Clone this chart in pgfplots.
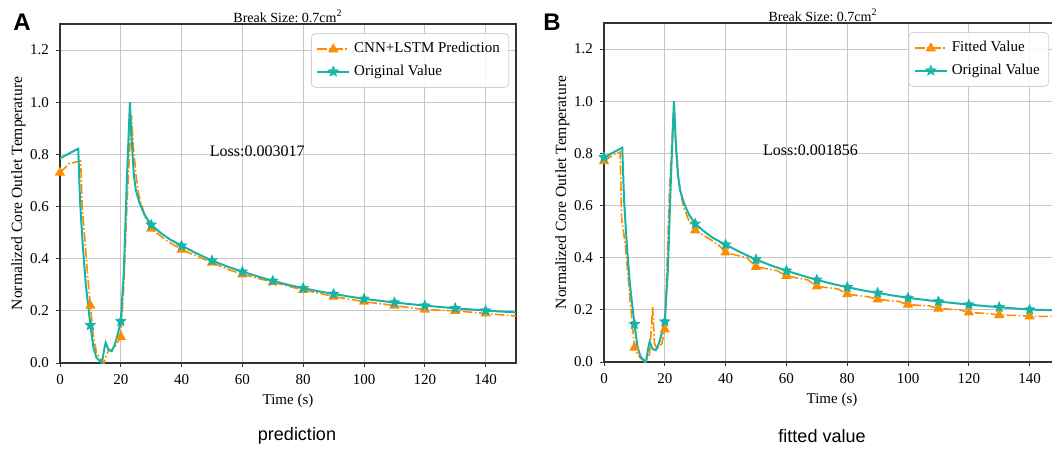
\documentclass[border=0pt]{standalone}
\usepackage{fontspec}
\setmainfont{Liberation Serif}
\newfontfamily\sansf{Liberation Sans}
\usepackage{pgfplots}
\pgfplotsset{compat=1.18}
\frenchspacing
\definecolor{cOrange}{HTML}{FF8C00}
\definecolor{cTeal}{HTML}{17B3A6}

\pgfdeclareplotmark{fstar}{%
  \pgfpathmoveto{\pgfpointpolar{90}{\pgfplotmarksize}}%
  \pgfpathlineto{\pgfpointpolar{126}{0.45\pgfplotmarksize}}%
  \pgfpathlineto{\pgfpointpolar{162}{\pgfplotmarksize}}%
  \pgfpathlineto{\pgfpointpolar{198}{0.45\pgfplotmarksize}}%
  \pgfpathlineto{\pgfpointpolar{234}{\pgfplotmarksize}}%
  \pgfpathlineto{\pgfpointpolar{270}{0.45\pgfplotmarksize}}%
  \pgfpathlineto{\pgfpointpolar{306}{\pgfplotmarksize}}%
  \pgfpathlineto{\pgfpointpolar{342}{0.45\pgfplotmarksize}}%
  \pgfpathlineto{\pgfpointpolar{18}{\pgfplotmarksize}}%
  \pgfpathlineto{\pgfpointpolar{54}{0.45\pgfplotmarksize}}%
  \pgfpathclose
  \pgfusepathqfillstroke
}

\pgfplotsset{
  panel/.style={
    scale only axis, width=228pt, height=169.5pt,
    xmin=0, xmax=150, ymin=0, ymax=1.3,
    xtick={0,20,40,60,80,100,120,140},
    ytick={0,0.2,0.4,0.6,0.8,1.0,1.2},
    grid=major, grid style={gray!45, line width=0.5pt},
    axis line style={black!80, line width=0.6pt},
    tick align=outside, tick pos=left, major tick length=2pt,
    tick style={black!80, line width=0.5pt},
    yticklabel style={/pgf/number format/fixed, /pgf/number format/fixed zerofill, /pgf/number format/precision=1},
    /pgf/number format/assume math mode=true,
    ticklabel style={font=\fontsize{7.5}{9}\selectfont},
    xlabel={Time (s)}, ylabel={Normalized Core Outlet Temperature},
    xlabel style={font=\fontsize{7.5}{8.5}\selectfont, yshift=2pt},
    ylabel style={font=\fontsize{7.8}{9}\selectfont, yshift=-4.5pt},
    title={Break Size: 0.7cm\textsuperscript{2}},
    title style={font=\fontsize{7}{8}\selectfont, yshift=-9pt},
    legend style={font=\fontsize{7.5}{9}\selectfont, draw=gray!35, rounded corners=2pt,
      fill=white, fill opacity=0.85, text opacity=1, inner sep=2.5pt, row sep=0.5pt},
    legend cell align=left,
    legend image code/.code={\draw[##1, mark indices={2}] plot coordinates {(0cm,0cm) (0.28cm,0cm) (0.56cm,0cm)};},
  },
  orangeS/.style={color=cOrange, line width=0.8pt,
    dash pattern=on 4.8pt off 1.2pt on 0.8pt off 1.2pt,
    mark=triangle*, mark size=2.2pt, mark options={solid, fill=cOrange}},
  tealS/.style={color=cTeal, line width=1pt,
    mark=fstar, mark size=2.6pt, mark options={solid, fill=cTeal, line width=0.4pt}},
}

\begin{document}
\begin{tikzpicture}
\useasboundingbox (0,0) rectangle (526pt,225pt);
\clip (0,0) rectangle (526pt,225pt);

% ---------------- Panel A ----------------
\begin{axis}[panel, at={(30pt,43.5pt)}, anchor=south west,
  legend style={at={(0.985,0.973)}, anchor=north east}]
\addplot[orangeS, mark indices={1,7,17,26,28,30,32,34,36,38,40,42,43,44,45}] table {
t v
0 0.73
3 0.765
6.8 0.775
7.3 0.6
8 0.5
9 0.35
10 0.22
11 0.1
12 0.04
13 0.02
14.5 0.0
15 0.02
16 0.05
17 0.05
18 0.06
19 0.08
20 0.10
21 0.3
22 0.6
23.5 0.95
24 0.85
25 0.72
26 0.64
27 0.6
28 0.56
30 0.515
35 0.47
40 0.435
45 0.41
50 0.385
55 0.36
60 0.34
65 0.325
70 0.31
75 0.295
80 0.28
85 0.268
90 0.255
95 0.245
100 0.235
105 0.228
110 0.22
120 0.205
130 0.2
140 0.19
150 0.18
};
\addlegendentry{CNN+LSTM Prediction}
\addplot[tealS, mark indices={6,16,26,29,31,33,35,37,39,41,42,43,44,45}] table {
t v
0 0.785
6 0.822
6.6 0.62
7.5 0.45
8.5 0.3
10 0.145
11 0.06
12 0.02
13.8 0.0
14.5 0.05
15 0.078
16 0.05
17 0.045
18 0.07
19 0.11
20 0.16
21 0.35
22 0.7
23 1.0
23.6 0.85
24.3 0.72
25 0.66
26 0.62
27 0.59
28 0.565
30 0.53
33 0.5
36 0.475
40 0.45
45 0.42
50 0.393
55 0.37
60 0.35
65 0.332
70 0.315
75 0.3
80 0.287
85 0.275
90 0.265
95 0.255
100 0.246
110 0.232
120 0.22
130 0.21
140 0.201
150 0.194
};
\addlegendentry{Original Value}
\node[anchor=west, font=\fontsize{8}{9}\selectfont] at (axis cs:47,0.81) {Loss:0.003017};
\end{axis}

% ---------------- Panel B ----------------
\begin{axis}[panel, at={(302pt,44pt)}, anchor=south west,
  title style={xshift=-4.5pt},
  legend style={at={(0.976,0.973)}, anchor=north east}]
\addplot[orangeS, mark indices={1,7,16,24,27,29,31,33,35,37,39,41,43,45,47}] table {
t v
0 0.77
3 0.795
5.3 0.805
5.8 0.55
7 0.45
8.5 0.25
10 0.055
11 0.03
12 0.015
13.5 0.0
15 0.03
16 0.21
16.6 0.07
17.5 0.05
19 0.07
20 0.125
20.8 0.4
21.5 0.65
23 0.99
23.6 0.82
24.5 0.7
26 0.6
28 0.54
30 0.505
35 0.47
38 0.445
40 0.42
47 0.4
50 0.365
57 0.35
60 0.33
67 0.315
70 0.29
77 0.28
80 0.26
87 0.25
90 0.24
97 0.232
100 0.22
107 0.215
110 0.205
117 0.2
120 0.19
127 0.185
130 0.18
137 0.178
140 0.175
150 0.175
};
\addlegendentry{Fitted Value}
\addplot[tealS, mark indices={1,6,16,26,29,31,33,35,37,39,41,42,43,44,45}] table {
t v
0 0.785
6 0.822
6.6 0.62
7.5 0.45
8.5 0.3
10 0.145
11 0.06
12 0.02
13.8 0.0
14.5 0.05
15 0.078
16 0.05
17 0.045
18 0.07
19 0.11
20 0.155
21 0.35
22 0.7
23 1.0
23.6 0.85
24.3 0.72
25 0.66
26 0.62
27 0.59
28 0.565
30 0.53
33 0.5
36 0.475
40 0.45
45 0.42
50 0.393
55 0.37
60 0.35
65 0.332
70 0.315
75 0.3
80 0.287
85 0.275
90 0.265
95 0.255
100 0.246
110 0.232
120 0.22
130 0.21
140 0.201
150 0.198
};
\addlegendentry{Original Value}
\node[anchor=west, font=\fontsize{8}{9}\selectfont] at (axis cs:50,0.81) {Loss:0.001856};
\end{axis}

% panel letters and captions
\node[font=\sansf\bfseries\fontsize{12}{12}\selectfont] at (11pt,214pt) {A};
\node[font=\sansf\bfseries\fontsize{12}{12}\selectfont] at (276pt,214pt) {B};
\node[font=\sansf\fontsize{9}{10}\selectfont] at (148.5pt,7pt) {prediction};
\node[font=\sansf\fontsize{9}{10}\selectfont] at (411pt,7pt) {fitted value};
\end{tikzpicture}
\end{document}
